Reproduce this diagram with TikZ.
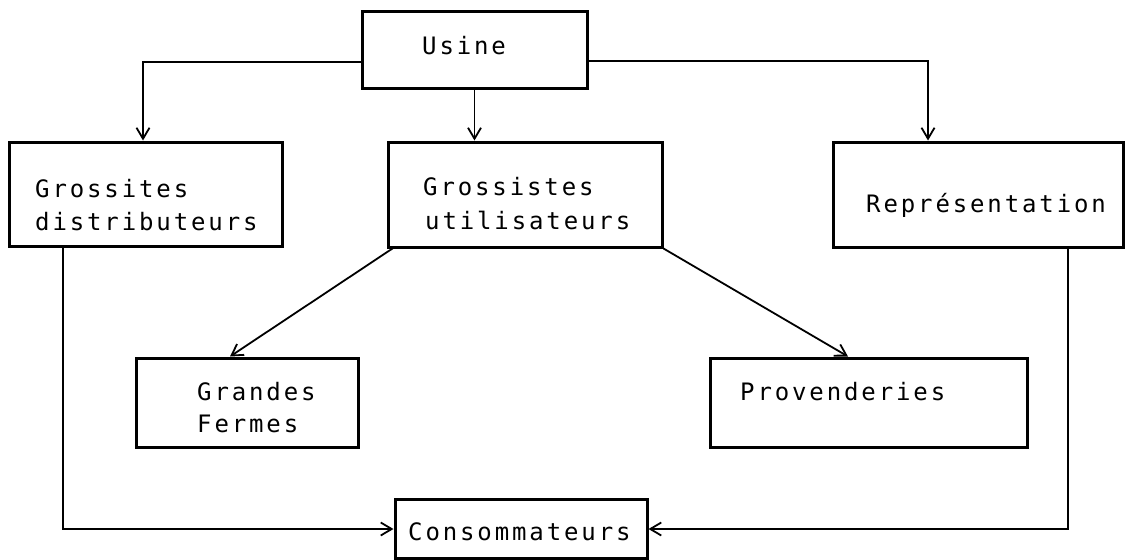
\documentclass[tikz,border=0pt]{standalone}
\usepackage{fontspec}
\newfontfamily\typewriter{DejaVu Sans Mono}[LetterSpace=12]
\usetikzlibrary{arrows.meta}

\tikzset{
  box/.style={draw=black, line width=3pt, rectangle, inner sep=0pt},
  txt/.style={anchor=base west, inner sep=0pt, text=black,
              font=\typewriter\fontsize{24}{28}\selectfont},
  conn/.style={draw=black, line width=1.8pt},
  flow/.style={conn, -{Straight Barb[length=11pt, width=13pt, line width=1.8pt]}},
}

\begin{document}
\begin{tikzpicture}[x=1pt, y=-1pt]
  % page frame
  \fill[white] (0,0) rectangle (1134,559);
  \useasboundingbox (0,0) rectangle (1134,559);

  % boxes
  \node[box, minimum width=225pt, minimum height=77pt]  (usine)  at (474.5,50.5) {};
  \node[box, minimum width=273pt, minimum height=104pt] (dist)   at (145.5,194)  {};
  \node[box, minimum width=274pt, minimum height=105pt] (util)   at (525,194.5)  {};
  \node[box, minimum width=290pt, minimum height=105pt] (repr)   at (978,194.5)  {};
  \node[box, minimum width=222pt, minimum height=89pt]  (fermes) at (247,402.5)  {};
  \node[box, minimum width=317pt, minimum height=89pt]  (prov)   at (868.5,402.5) {};
  \node[box, minimum width=252pt, minimum height=59pt]  (conso)  at (521,529)    {};

  % labels
  \node[txt] (tusine) at (422,55)  {Usine};
  \node[txt] (tdist1) at (35,197)  {Grossites};
  \node[txt] (tdist2) at (35,230)  {distributeurs};
  \node[txt] (tutil1) at (423,195) {Grossistes};
  \node[txt] (tutil2) at (425,229) {utilisateurs};
  \node[txt] (trepr)  at (866,212) {Représentation};
  \node[txt] (tferm1) at (197,400) {Grandes};
  \node[txt] (tferm2) at (197,432) {Fermes};
  \node[txt] (tprov)  at (740,400) {Provenderies};
  \node[txt] (tcons)  at (408,540) {Consommateurs};

  % routing points
  \coordinate (c1) at (143,62);
  \coordinate (c3) at (928,61);
  \coordinate (c4) at (230,0);
  \coordinate (c5) at (848,0);
  \coordinate (c6) at (63,0);
  \coordinate (c7) at (1068,0);

  % connectors
  \draw[flow] (usine.west |- c1) -| (c1 |- dist.north);
  \draw[flow] (usine.south) -- (usine.south |- util.north);
  \draw[flow] (usine.east |- c3) -| (c3 |- repr.north);
  \draw[flow] ([xshift=6pt]util.south west) -- (c4 |- fermes.north);
  \draw[flow] (util.south east) -- (c5 |- prov.north);
  \draw[flow, line width=2.4pt] (c6 |- dist.south) |- (conso.west);
  \draw[flow] (c7 |- repr.south) |- (conso.east);
\end{tikzpicture}
\end{document}
